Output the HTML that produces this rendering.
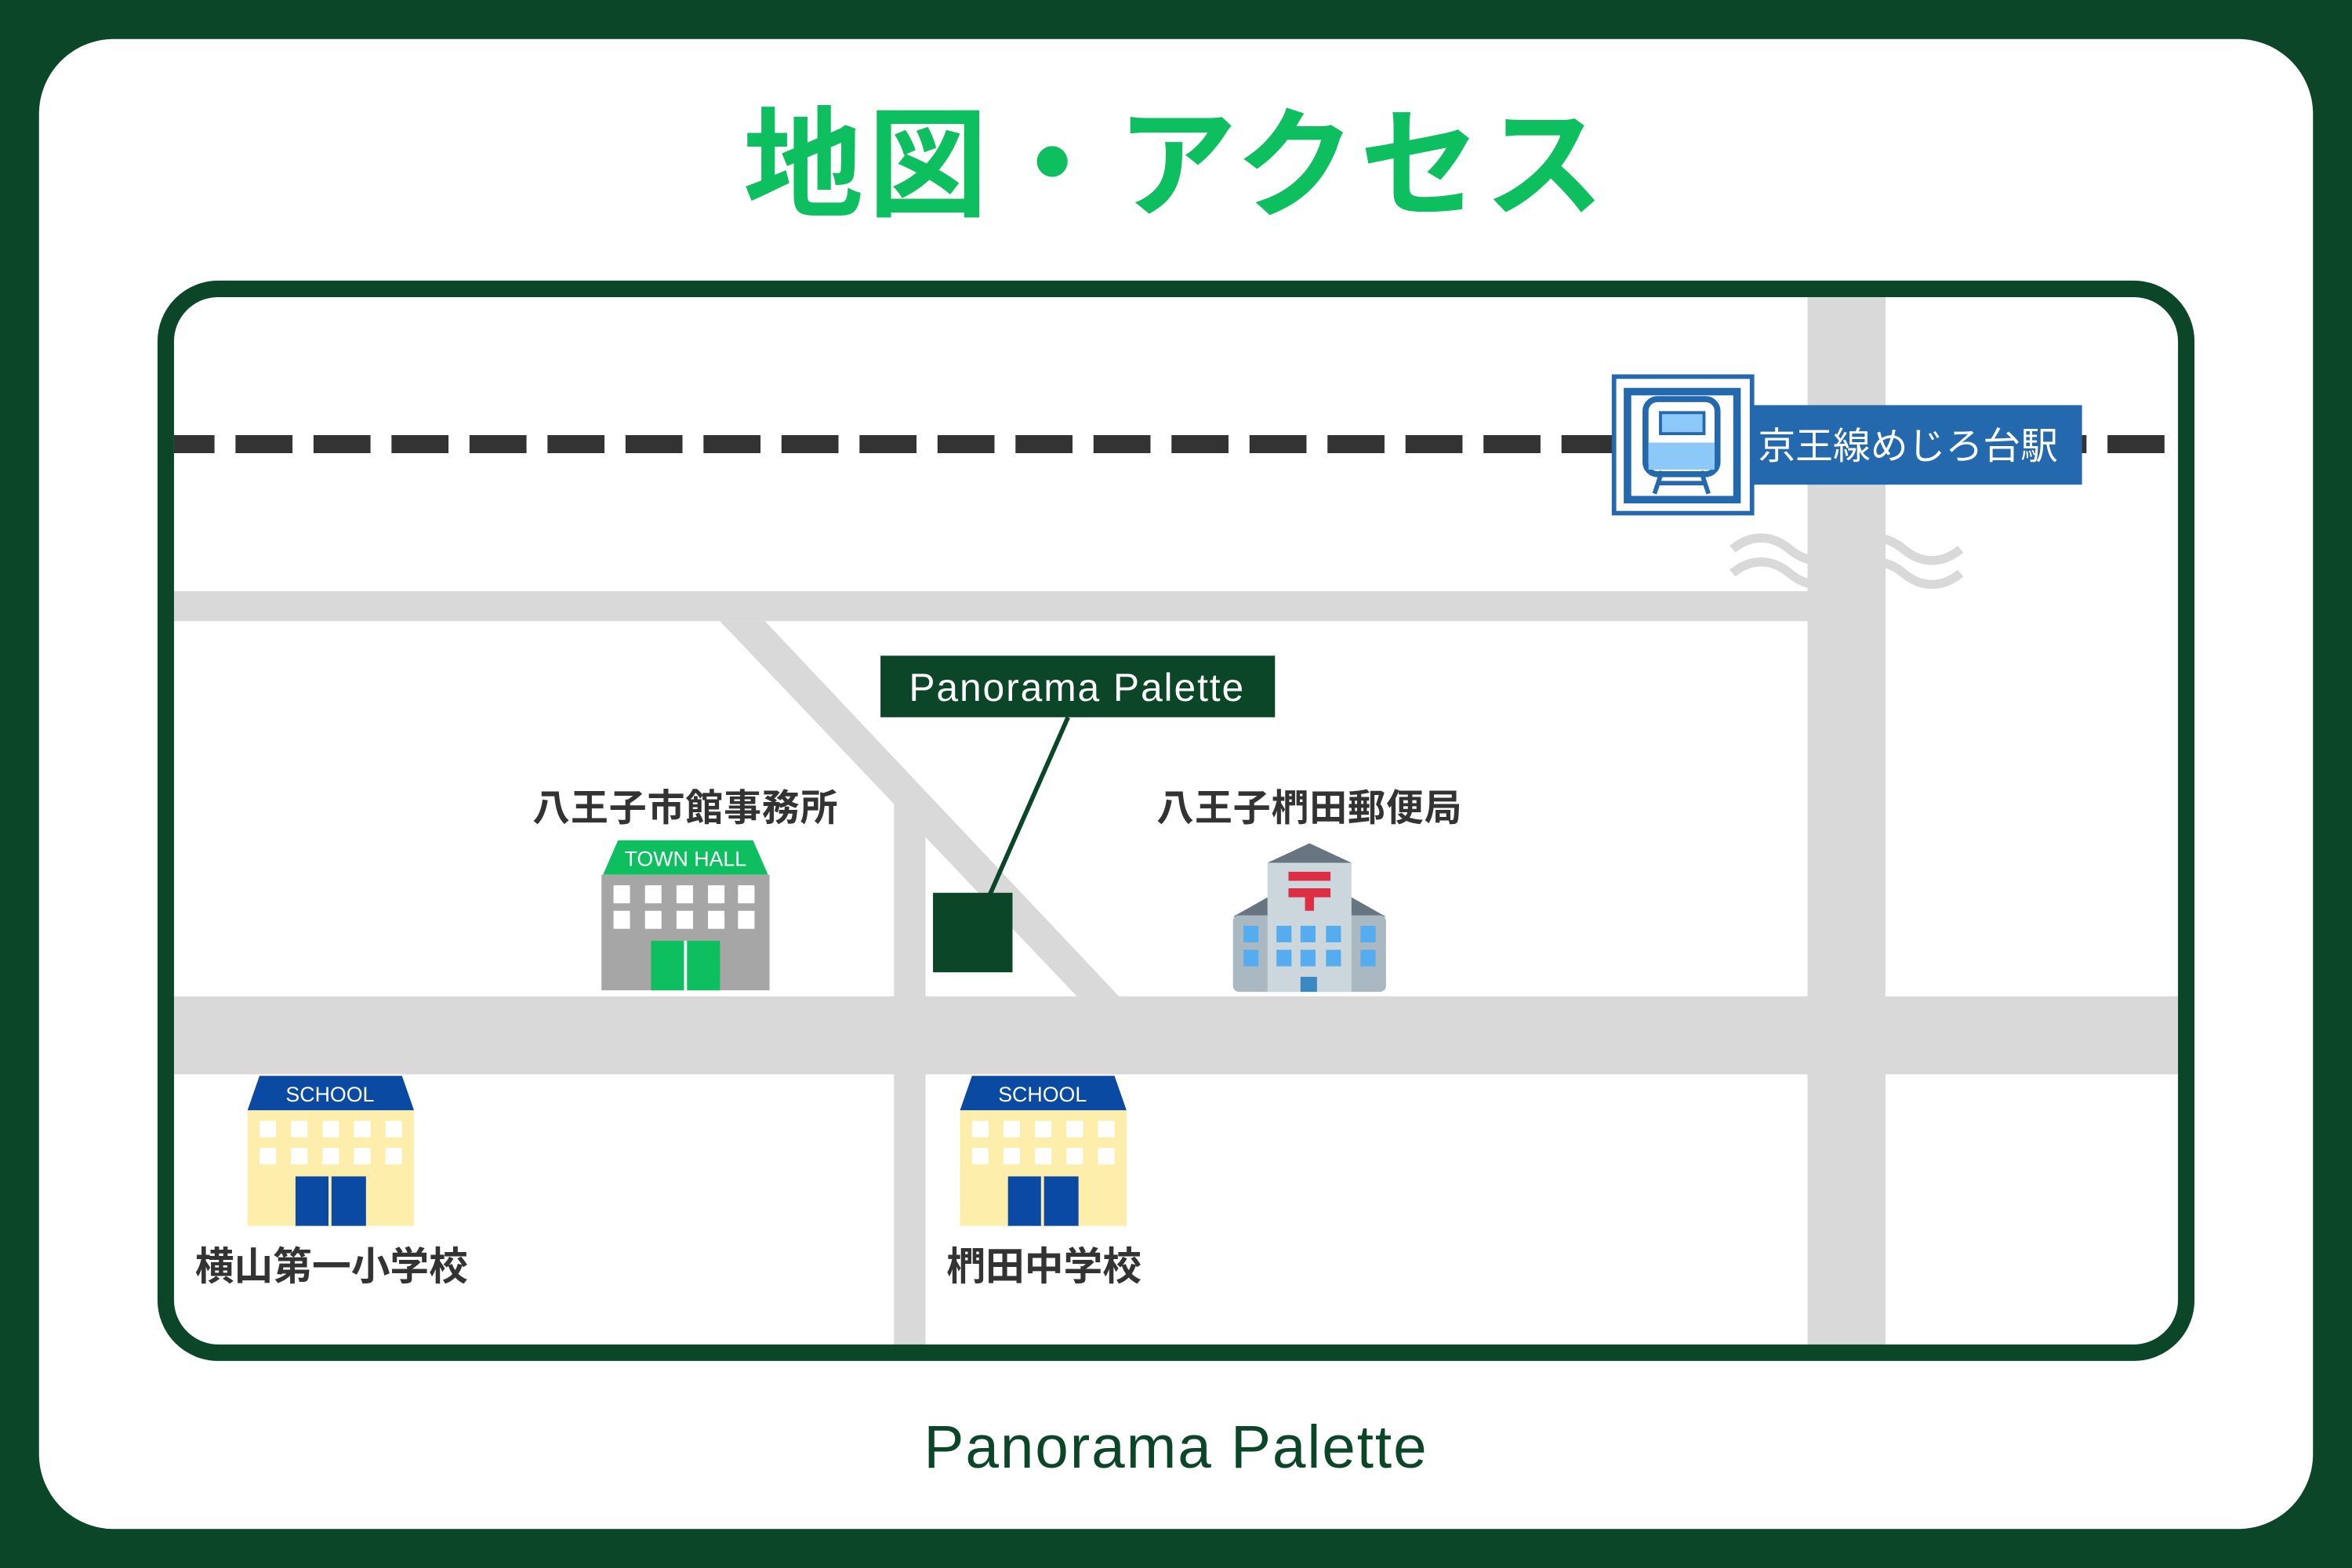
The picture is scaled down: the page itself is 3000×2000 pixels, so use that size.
<!DOCTYPE html>
<html><head><meta charset="utf-8"><style>html,body{margin:0;padding:0;background:#0b4629}svg{display:block}</style></head><body>
<svg width="3000" height="2000" viewBox="0 0 1568 1045" preserveAspectRatio="none" xmlns="http://www.w3.org/2000/svg" font-family="'Liberation Sans','Noto Sans CJK JP',sans-serif">
<rect width="1568" height="1045" fill="#0b4629"/>
<rect x="26" y="26" width="1516" height="993" rx="50" fill="#fff"/>
<text x="784" y="138" text-anchor="middle" font-size="80" font-weight="bold" fill="#0dbf5f" letter-spacing="3">地図・アクセス</text>
<defs><clipPath id="c"><rect x="116" y="198" width="1336" height="698" rx="30"/></clipPath></defs>
<rect x="110" y="192" width="1348" height="710" rx="35" fill="#fff"/>
<g clip-path="url(#c)">
<g fill="#d9d9d9">
<rect x="116" y="394" width="1090" height="20"/>
<rect x="1205" y="198" width="52" height="700"/>
<rect x="116" y="664" width="1340" height="52"/>
<rect x="596" y="535" width="21" height="365"/>
<polygon points="480,414 510,414 746,664 718,664"/>
</g>
<line x1="116" y1="296" x2="1452" y2="296" stroke="#333" stroke-width="12" stroke-dasharray="38 14" stroke-dashoffset="11"/>
<g fill="none" stroke="#d9d9d9" stroke-width="6">
<path d="M1155 366 c12 -10 26 -10 38 0 c12 10 26 10 38 0 c12 -10 26 -10 38 0 c12 10 26 10 38 0"/>
<path d="M1155 382 c12 -10 26 -10 38 0 c12 10 26 10 38 0 c12 -10 26 -10 38 0 c12 10 26 10 38 0"/>
</g>
<rect x="1076" y="251" width="92" height="91" fill="#fff" stroke="#2468ae" stroke-width="3"/>
<rect x="1085" y="261" width="73" height="72" fill="#fff" stroke="#2468ae" stroke-width="5"/>
<rect x="1097" y="266" width="48" height="50" rx="8" fill="#fff" stroke="#2468ae" stroke-width="4"/>
<rect x="1107" y="275" width="29" height="14" fill="#8cc8f8" stroke="#2468ae" stroke-width="2"/>
<rect x="1099" y="295" width="44" height="18" fill="#8cc8f8"/>
<path d="M1108 314 l-5 15 M1134 314 l5 15 M1106 322 h30" stroke="#2468ae" stroke-width="3"/>
<rect x="1168" y="270" width="220" height="53" fill="#2468ae"/>
<text x="1172" y="306" font-size="25" fill="#fff">京王線めじろ台駅</text>
<line x1="712" y1="478" x2="660" y2="596" stroke="#0b4629" stroke-width="3"/>
<rect x="587" y="437" width="263" height="41" fill="#0b4629"/>
<text x="718" y="467" text-anchor="middle" font-size="26" fill="#fff" letter-spacing="1">Panorama Palette</text>
<rect x="622" y="595" width="53" height="53" fill="#0b4629"/>
<text x="457" y="547" text-anchor="middle" font-size="25" font-weight="bold" fill="#333" letter-spacing="0.5">八王子市館事務所</text>
<text x="873" y="547" text-anchor="middle" font-size="25" font-weight="bold" fill="#333" letter-spacing="0.5">八王子椚田郵便局</text>
<polygon points="412,560 502,560 512,583 402,583" fill="#0dbf5f"/>
<text x="457" y="577" text-anchor="middle" font-size="14" fill="#fff">TOWN HALL</text>
<rect x="401" y="583" width="112" height="77" fill="#a6a6a6"/>
<g fill="#fff">
<rect x="409" y="590" width="11" height="12"/><rect x="430" y="590" width="11" height="12"/><rect x="451" y="590" width="11" height="12"/><rect x="472" y="590" width="11" height="12"/><rect x="492" y="590" width="11" height="12"/>
<rect x="409" y="607" width="11" height="12"/><rect x="430" y="607" width="11" height="12"/><rect x="451" y="607" width="11" height="12"/><rect x="472" y="607" width="11" height="12"/><rect x="492" y="607" width="11" height="12"/>
</g>
<rect x="434" y="627" width="46" height="33" fill="#0dbf5f"/><rect x="456" y="627" width="2" height="33" fill="#fff"/>
<polygon points="822,611 845,598 901,598 924,611" fill="#66757f"/>
<rect x="822" y="610" width="102" height="51" rx="4" fill="#aab8c2"/>
<polygon points="845,575 873,562 901,575" fill="#66757f"/>
<rect x="845" y="575" width="56" height="86" fill="#ccd6dd"/>
<rect x="859" y="581" width="28" height="6" fill="#dd2e44"/><rect x="859" y="592" width="28" height="6" fill="#dd2e44"/><rect x="870" y="592" width="6" height="15" fill="#dd2e44"/>
<g fill="#55acee">
<rect x="829" y="617" width="10" height="11"/><rect x="851" y="617" width="10" height="11"/><rect x="867" y="617" width="10" height="11"/><rect x="884" y="617" width="10" height="11"/><rect x="907" y="617" width="10" height="11"/>
<rect x="829" y="633" width="10" height="11"/><rect x="851" y="633" width="10" height="11"/><rect x="867" y="633" width="10" height="11"/><rect x="884" y="633" width="10" height="11"/><rect x="907" y="633" width="10" height="11"/>
</g>
<rect x="867" y="651" width="11" height="10" fill="#3b88c3"/>
<g id="s">
<polygon points="173,717 268,717 276,740 165,740" fill="#0b4aa2"/>
<text x="220" y="734" text-anchor="middle" font-size="14" fill="#fff">SCHOOL</text>
<rect x="165" y="740" width="111" height="77" fill="#fdeeab"/>
<g fill="#fff">
<rect x="173" y="747" width="11" height="11"/><rect x="194" y="747" width="11" height="11"/><rect x="215" y="747" width="11" height="11"/><rect x="236" y="747" width="11" height="11"/><rect x="257" y="747" width="11" height="11"/>
<rect x="173" y="765" width="11" height="11"/><rect x="194" y="765" width="11" height="11"/><rect x="215" y="765" width="11" height="11"/><rect x="236" y="765" width="11" height="11"/><rect x="257" y="765" width="11" height="11"/>
</g>
<rect x="197" y="784" width="47" height="33" fill="#0b4aa2"/><rect x="219" y="784" width="2" height="33" fill="#fdeeab"/>
</g>
<use href="#s" x="475"/>
<text x="221" y="853" text-anchor="middle" font-size="26" font-weight="bold" fill="#333">横山第一小学校</text>
<text x="696" y="853" text-anchor="middle" font-size="26" font-weight="bold" fill="#333">椚田中学校</text>
</g>
<rect x="110.5" y="192.5" width="1347" height="709" rx="35" fill="none" stroke="#0b4629" stroke-width="11"/>
<text x="784" y="978" text-anchor="middle" font-size="40" fill="#0b4629" letter-spacing="1">Panorama Palette</text>
</svg>
</body></html>
